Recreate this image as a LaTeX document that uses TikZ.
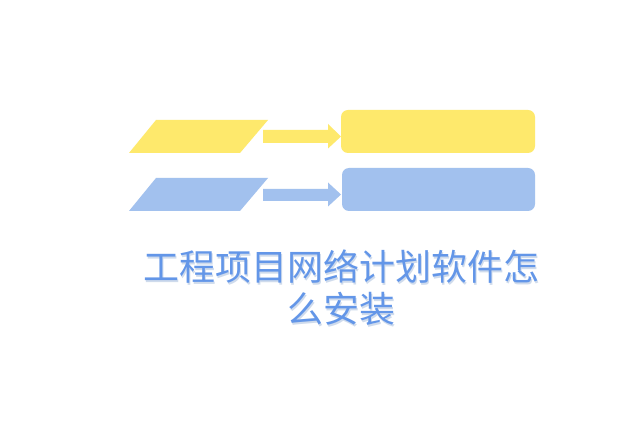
\documentclass[tikz,border=0pt]{standalone}
\usepackage{fontspec}
\newfontfamily\cjk{Noto Sans CJK SC}
\definecolor{ylw}{HTML}{FEE96C}
\definecolor{blu}{HTML}{A2C1EE}
\definecolor{txt}{HTML}{6396E8}
\definecolor{shd}{HTML}{CFDBEC}
\tikzset{
  box/.style={rounded corners=7pt, inner sep=0pt},
  ttl/.style={font=\cjk\fontsize{36}{42}\selectfont, align=center, inner sep=0pt}
}
\begin{document}
\begin{tikzpicture}[x=1pt,y=-1pt]
\useasboundingbox (0,0) rectangle (640,427);
\fill[white] (0,0) rectangle (640,427);
% yellow row
\fill[ylw] (129,153) -- (156,120) -- (268,120) -- (240,153) -- cycle;
\fill[ylw] (263,130) -- (328,130) -- (328,124) -- (341,136.5) -- (328,148.5) -- (328,143) -- (263,143) -- cycle;
\fill[ylw, box] (341,110) rectangle (535,153);
% blue row
\fill[blu] (129,211) -- (156,178) -- (268,178) -- (240,211) -- cycle;
\fill[blu] (263,189) -- (328,189) -- (328,182.5) -- (341,194.5) -- (328,206.5) -- (328,201) -- (263,201) -- cycle;
\fill[blu, box] (342,168) rectangle (535,211);
% title
\node[ttl, text=shd] at (342.5,289.5) {工程项目网络计划软件怎\\么安装};
\node[ttl, text=txt] (t) at (341,288) {工程项目网络计划软件怎\\么安装};
\end{tikzpicture}
\end{document}
